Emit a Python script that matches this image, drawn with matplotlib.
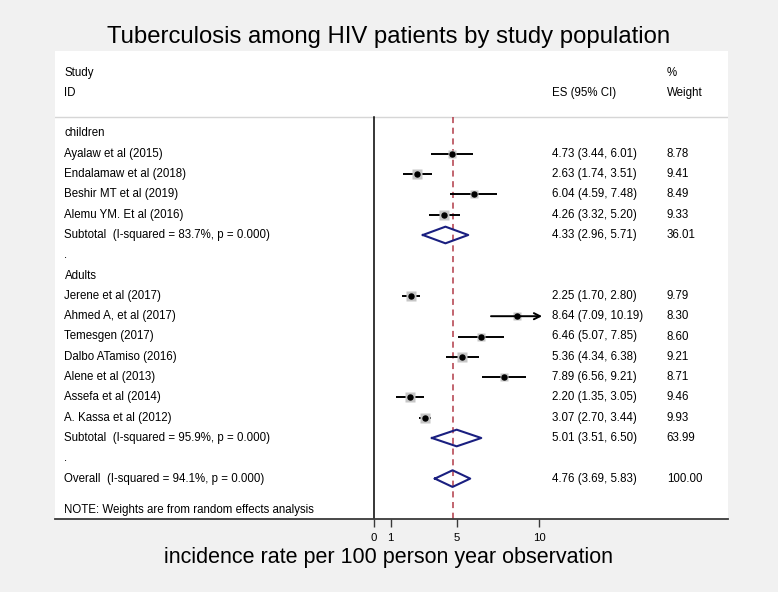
import numpy as np
import matplotlib.pyplot as plt

plt.rcParams['font.family'] = ['Liberation Sans', 'DejaVu Sans']

# ---- data ----
child_names = ["Ayalaw et al (2015)", "Endalamaw et al (2018)",
               "Beshir MT et al (2019)", "Alemu YM. Et al (2016)"]
child_es = [4.73, 2.63, 6.04, 4.26]
child_lo = [3.44, 1.74, 4.59, 3.32]
child_hi = [6.01, 3.51, 7.48, 5.20]
child_w = [8.78, 9.41, 8.49, 9.33]
child_sub = [4.33, 2.96, 5.71, 36.01]
child_sub_label = "Subtotal  (I-squared = 83.7%, p = 0.000)"

adult_names = ["Jerene et al (2017)", "Ahmed A, et al (2017)", "Temesgen (2017)",
               "Dalbo ATamiso (2016)", "Alene et al (2013)", "Assefa et al (2014)",
               "A. Kassa et al (2012)"]
adult_es = [2.25, 8.64, 6.46, 5.36, 7.89, 2.20, 3.07]
adult_lo = [1.70, 7.09, 5.07, 4.34, 6.56, 1.35, 2.70]
adult_hi = [2.80, 10.19, 7.85, 6.38, 9.21, 3.05, 3.44]
adult_w = [9.79, 8.30, 8.60, 9.21, 8.71, 9.46, 9.93]
adult_sub = [5.01, 3.51, 6.50, 63.99]
adult_sub_label = "Subtotal  (I-squared = 95.9%, p = 0.000)"

overall = [4.76, 3.69, 5.83, 100.00]
overall_label = "Overall  (I-squared = 94.1%, p = 0.000)"

x_ticks = [0, 1, 5, 10]
x_axis_max = 10

# ---- layout helpers ----
W, H = 778, 592
px0, px_per_unit = 374, 16.5       # pixel of x=0, pixels per unit
row0, px_per_row = 133.5, 20.3     # pixel of first row, pixels per row
box_l, box_r, box_t, box_b = 55, 728, 51, 519

def px_to_x(p):
    return (p - px0) / px_per_unit

def px_to_row(p):
    return (p - row0) / px_per_row

fig = plt.figure(figsize=(W / 100, H / 100), dpi=100, facecolor='#f1f1f1')
ax = fig.add_axes([box_l / W, 1 - box_b / H, (box_r - box_l) / W, (box_b - box_t) / H])
ax.set_facecolor('white')
ax.set_xlim(px_to_x(box_l), px_to_x(box_r))
ax.set_ylim(px_to_row(box_b), px_to_row(box_t))

for s in ['top', 'left', 'right']:
    ax.spines[s].set_visible(False)
ax.spines['bottom'].set_color('#3a3a3a')
ax.spines['bottom'].set_linewidth(1.3)
ax.set_yticks([])
ax.set_xticks(x_ticks)
ax.set_xticklabels([str(t) for t in x_ticks])
ax.tick_params(axis='x', length=5.8, width=1.0, color='#3a3a3a', labelsize=8.2, pad=4)

trans = ax.get_yaxis_transform()  # x in axes coords, y in data
col_study, col_es, col_w = 0.0141, 0.7385, 0.909
fs = 8.3

def put_text(y, study, es_txt="", w_txt=""):
    ax.text(col_study, y, study, transform=trans, fontsize=fs, va='center')
    if es_txt:
        ax.text(col_es, y, es_txt, transform=trans, fontsize=fs, va='center')
    if w_txt:
        ax.text(col_w, y, w_txt, transform=trans, fontsize=fs, va='center')

def study_row(y, name, es, lo, hi, w):
    if hi > x_axis_max:
        ax.annotate('', xy=(hi, y), xytext=(lo, y),
                    arrowprops=dict(arrowstyle='->', lw=1.4, color='black',
                                    shrinkA=0, shrinkB=0, mutation_scale=11))
    else:
        ax.plot([lo, hi], [y, y], color='black', lw=1.4, solid_capstyle='butt')
    ax.plot(es, y, 's', ms=6.5 * np.sqrt(w / 9), color='#c6c6c6', mec='none')
    ax.plot(es, y, 'o', ms=3.6, color='black')
    put_text(y, name, f"{es:.2f} ({lo:.2f}, {hi:.2f})", f"{w:.2f}")

def diamond_row(y, label, vals):
    es, lo, hi, w = vals
    h = 0.41
    ax.plot([lo, es, hi, es, lo], [y, y - h, y, y + h, y], color='#1a1f80', lw=1.5)
    put_text(y, label, f"{es:.2f} ({lo:.2f}, {hi:.2f})", f"{w:.2f}")

# header
header_sep = px_to_row(117)
ax.text(col_study, -3, "Study", transform=trans, fontsize=fs, va='center')
ax.text(col_study, -2, "ID", transform=trans, fontsize=fs, va='center')
ax.text(col_es, -2, "ES (95% CI)", transform=trans, fontsize=fs, va='center')
ax.text(col_w, -3, "%", transform=trans, fontsize=fs, va='center')
ax.text(col_w, -2, "Weight", transform=trans, fontsize=fs, va='center')
ax.axhline(header_sep, color='#d6d6d6', lw=1.0)

# reference lines
y_bottom = px_to_row(box_b)
ax.plot([0, 0], [header_sep, y_bottom], color='black', lw=1.1)
ax.plot([overall[0]] * 2, [header_sep, y_bottom], color='#b23a48', lw=1.1,
        dashes=(4, 3))

y = 0
put_text(y, "children")
for i in range(len(child_names)):
    y += 1
    study_row(y, child_names[i], child_es[i], child_lo[i], child_hi[i], child_w[i])
y += 1
diamond_row(y, child_sub_label, child_sub)
y += 1
put_text(y, ".")
y += 1
put_text(y, "Adults")
for i in range(len(adult_names)):
    y += 1
    study_row(y, adult_names[i], adult_es[i], adult_lo[i], adult_hi[i], adult_w[i])
y += 1
diamond_row(y, adult_sub_label, adult_sub)
y += 1
put_text(y, ".")
y += 1
diamond_row(y, overall_label, overall)

ax.text(col_study, px_to_row(510), "NOTE: Weights are from random effects analysis",
        transform=trans, fontsize=fs, va='center')

fig.text(0.5, 1 - 43 / H, "Tuberculosis among HIV patients by study population",
         ha='center', va='baseline', fontsize=17.2)
fig.text(0.5, 1 - 563 / H, "incidence rate per 100 person year observation",
         ha='center', va='baseline', fontsize=15.5)

fig.savefig("out.png", dpi=100, facecolor=fig.get_facecolor())
